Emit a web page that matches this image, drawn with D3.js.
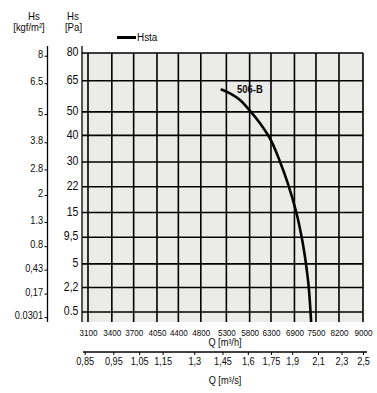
<!DOCTYPE html>
<html><head><meta charset="utf-8">
<script src="https://cdn.jsdelivr.net/npm/d3@7/dist/d3.min.js"></script>
<style>
body{margin:0;background:#fff;}
text{font-family:"Liberation Sans",Arial,sans-serif;fill:#0a0a0a;}
</style></head><body>
<svg id="c" width="377" height="393"></svg>
<script>
// ---- data ----
const qTicksH = [3100,3400,3700,4050,4400,4800,5300,5800,6300,6900,7500,8200,9000];
const qTicksS = [0.85,0.95,1.05,1.15,1.3,1.45,1.6,1.75,1.9,2.1,2.3,2.5];
const qLabelsS = ["0,85","0,95","1,05","1,15","1,3","1,45","1,6","1,75","1,9","2,1","2,3","2,5"];
const paTicks = [0.5,2.2,5,9.5,15,22,30,40,50,65,80];
const paLabels = ["0.5","2,2","5","9,5","15","22","30","40","50","65","80"];
const kgfTicks = [8,6.5,5,3.8,2.8,2,1.3,0.8,0.43,0.17,0.0301];
const kgfLabels = ["8","6.5","5","3.8","2.8","2","1.3","0.8","0,43","0,17","0.0301"];
const curveQ  = [5185,5375,5588,5824,6038,6294,6525,6725,6956,7075,7166,7250,7292,7355,7360];
const curvePa = [60.7,58.7,55.5,50.1,45.0,38.2,30.1,23.0,14.8,10.3,6.89,3.75,2.28,0.256,0.15];
const seriesName = "Hsta", curveLabel = "506-B";

// ---- layout ----
const svg = d3.select("#c");
const L = 88, R = 363, T = 53, B = 322, axPa = 82, axKgf = 47.5, yZero = 334.2;
const x = d3.scaleLog().domain([3100, 9000]).range([L, R]);
const xs = d3.scaleLog().domain([3100/3600, 9000/3600]).range([L, R]);
const y = d3.scaleSqrt().domain([0, 80]).range([yZero, T]);
const yk = d3.scaleSqrt().domain([0, 80/9.80665]).range([yZero, T]);

function label(px, py, txt, size, anchor, sx, bold) {
  const t = svg.append("text").attr("transform", `translate(${px},${py}) scale(${sx},1)`)
    .attr("text-anchor", anchor).attr("font-size", size).text(txt);
  if (bold) t.attr("font-weight", "bold");
  return t;
}

// plot background
svg.append("rect").attr("x", axPa).attr("y", T).attr("width", R - axPa).attr("height", B - T).attr("fill", "#ebecea");

// grid
const g = svg.append("g").attr("stroke", "#000").attr("stroke-width", 1.6);
g.selectAll(".h").data(paTicks).join("line")
  .attr("x1", axPa).attr("x2", R).attr("y1", d => y(d)).attr("y2", d => y(d));
g.selectAll(".v").data(qTicksH).join("line")
  .attr("x1", d => x(d)).attr("x2", d => x(d)).attr("y1", T).attr("y2", B);

// axis lines
svg.append("line").attr("x1", axPa).attr("x2", axPa).attr("y1", 46).attr("y2", B).attr("stroke", "#000").attr("stroke-width", 1.3);
svg.append("line").attr("x1", axKgf).attr("x2", axKgf).attr("y1", 46).attr("y2", B).attr("stroke", "#000").attr("stroke-width", 1.3);

// Pa axis
const aPa = svg.append("g").attr("transform", `translate(${axPa},0)`)
  .call(d3.axisLeft(y).tickValues(paTicks).tickSize(0).tickPadding(4).tickFormat((d, i) => paLabels[i]));
aPa.select(".domain").remove();
aPa.selectAll("text").attr("font-size", 12).attr("dy", "0.22em").attr("transform", "scale(0.88,1)").style("font-family", null);

// kgf axis
const aK = svg.append("g").attr("transform", `translate(${axKgf},0)`)
  .call(d3.axisLeft(yk).tickValues(kgfTicks).tickSize(3).tickPadding(2).tickFormat((d, i) => kgfLabels[i]));
aK.select(".domain").remove();
aK.selectAll("line").attr("stroke-width", 1);
aK.selectAll("text").attr("font-size", 10.5).attr("dy", "0.15em").attr("transform", "scale(0.88,1)");

// bottom m3/h labels
const aH = svg.append("g").attr("transform", `translate(0,${B})`)
  .call(d3.axisBottom(x).tickValues(qTicksH).tickSize(0).tickPadding(7).tickFormat(d3.format("d")));
aH.select(".domain").remove();
aH.selectAll("text").attr("font-size", 9.4).attr("transform", "scale(0.86,1)");
label(225, 346, "Q [m³/h]", 10, "middle", 0.92);

// m3/s axis
const yS = 352;
const aS = svg.append("g").attr("transform", `translate(0,${yS})`)
  .call(d3.axisBottom(xs).tickValues(qTicksS).tickSize(3).tickPadding(3).tickFormat((d, i) => qLabelsS[i]));
aS.select(".domain").remove();
aS.selectAll("line").attr("stroke-width", 1);
aS.selectAll("text").attr("font-size", 10.2).attr("transform", "scale(0.9,1)");
svg.append("line").attr("x1", 83).attr("x2", 367).attr("y1", yS).attr("y2", yS).attr("stroke", "#000").attr("stroke-width", 1.3);
label(225, 384, "Q [m³/s]", 10, "middle", 0.92);

// headers
label(34, 20, "Hs", 10.5, "middle", 0.92);
label(29, 31, "[kgf/m²]", 10.5, "middle", 0.9);
label(73, 20, "Hs", 10.5, "middle", 0.92);
label(73.5, 31, "[Pa]", 10.5, "middle", 0.92);

// legend
svg.append("line").attr("x1", 117).attr("x2", 136).attr("y1", 37.5).attr("y2", 37.5).attr("stroke", "#000").attr("stroke-width", 3);
label(137, 41, seriesName, 11, "start", 0.9);

// curve
const pts = curveQ.map((q, i) => [x(q), y(curvePa[i])]);
svg.append("path").attr("d", d3.line().curve(d3.curveCatmullRom)(pts))
  .attr("fill", "none").attr("stroke", "#000").attr("stroke-width", 2.6);
label(237, 93, curveLabel, 10.5, "start", 0.9, true);
</script>
</body></html>
